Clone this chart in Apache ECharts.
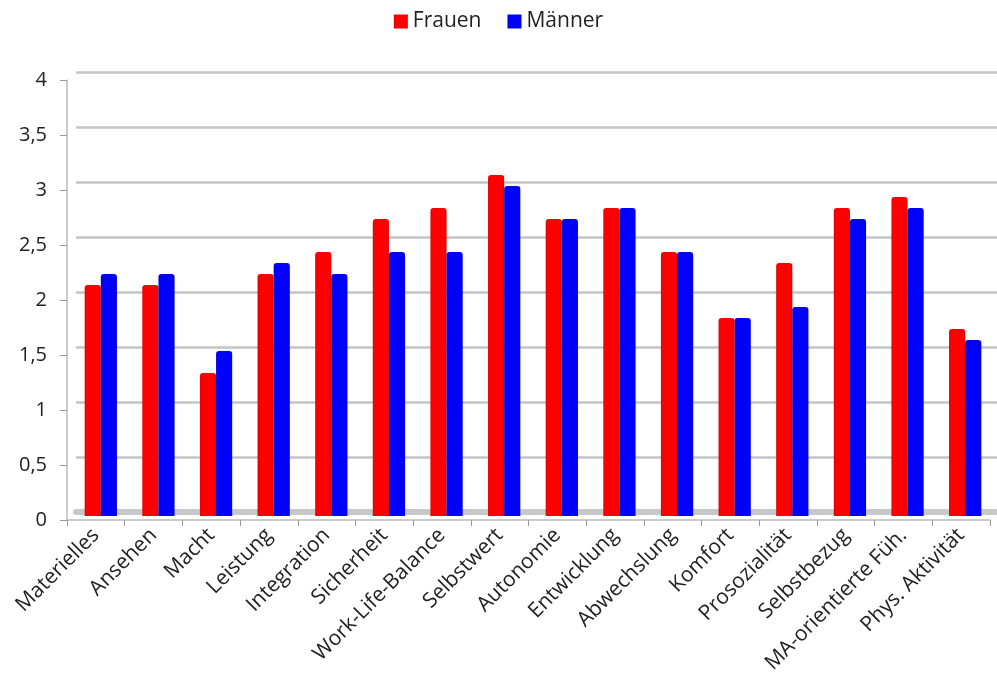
<!DOCTYPE html>
<html><head><meta charset="utf-8">
<script src="https://cdn.jsdelivr.net/npm/echarts@6/dist/echarts.min.js"></script>
<style>html,body{margin:0;padding:0;background:#fff}#c{width:997px;height:700px}</style>
</head><body><div id="c"></div>
<script>
const categories = ["Materielles","Ansehen","Macht","Leistung","Integration","Sicherheit","Work-Life-Balance","Selbstwert","Autonomie","Entwicklung","Abwechslung","Komfort","Prosozialität","Selbstbezug","MA-orientierte Füh.","Phys. Aktivität"];
const frauen = [2.1,2.1,1.3,2.2,2.4,2.7,2.8,3.1,2.7,2.8,2.4,1.8,2.3,2.8,2.9,1.7];
const maenner = [2.2,2.2,1.5,2.3,2.2,2.4,2.4,3.0,2.7,2.8,2.4,1.8,1.9,2.7,2.8,1.6];
const seriesNames = ["Frauen","Männer"];
const font = "Open Sans";
function cyl(c1,c3){return {type:'linear',x:0,y:0,x2:1,y2:0,colorStops:[{offset:0,color:c3},{offset:0.12,color:c1},{offset:0.88,color:c1},{offset:1,color:c3}]};}
const chart = echarts.init(document.getElementById('c'));
chart.setOption({
  animation:false,
  textStyle:{fontFamily:font},
  legend:{top:6,left:'center',itemWidth:14,itemHeight:14,itemGap:26,icon:'rect',
    textStyle:{fontFamily:font,fontSize:21,color:'#222'},data:seriesNames},
  grid:[
    {left:67,right:7,top:80,bottom:180},
    {left:76,right:0,top:72,bottom:188},
    {left:72,right:3,top:76,bottom:184}
  ],
  xAxis:[
    {gridIndex:0,type:'category',data:categories,
      axisLine:{lineStyle:{color:'#bbb',width:1.5}},axisTick:{show:true,length:6,lineStyle:{color:'#999'}},
      axisLabel:{rotate:45,fontSize:21,color:'#222',fontFamily:font,margin:12,interval:0}},
    {gridIndex:1,type:'category',data:categories,axisLine:{show:true,lineStyle:{color:'#c8c8c8',width:6}},axisTick:{show:false},axisLabel:{show:false}},
    {gridIndex:2,type:'category',data:categories,axisLine:{show:false},axisTick:{show:false},axisLabel:{show:false}}
  ],
  yAxis:[
    {gridIndex:0,type:'value',min:0,max:4,interval:0.5,
      axisLine:{show:true,lineStyle:{color:'#bbb',width:1.5}},axisTick:{show:true,length:7,lineStyle:{color:'#999'}},
      splitLine:{show:false},
      axisLabel:{fontSize:20,color:'#222',fontFamily:font,margin:20,formatter:v=>String(v).replace('.',',')}},
    {gridIndex:1,type:'value',min:0,max:4,interval:0.5,axisLine:{show:false},axisTick:{show:false},axisLabel:{show:false},
      splitLine:{lineStyle:{color:'#c4c4c4',width:2.5}}},
    {gridIndex:2,type:'value',min:0,max:4,interval:0.5,axisLine:{show:false},axisTick:{show:false},axisLabel:{show:false},splitLine:{show:false}}
  ],
  series:[
    {name:seriesNames[0],type:'bar',xAxisIndex:2,yAxisIndex:2,data:frauen,barGap:'0%',barCategoryGap:'44%',
      itemStyle:{color:cyl('#ff0000','#e00000'),borderRadius:[3,3,0,0]}},
    {name:seriesNames[1],type:'bar',xAxisIndex:2,yAxisIndex:2,data:maenner,barGap:'0%',barCategoryGap:'44%',
      itemStyle:{color:cyl('#0000ff','#0000d8'),borderRadius:[3,3,0,0]}}
  ]
});
</script></body></html>
